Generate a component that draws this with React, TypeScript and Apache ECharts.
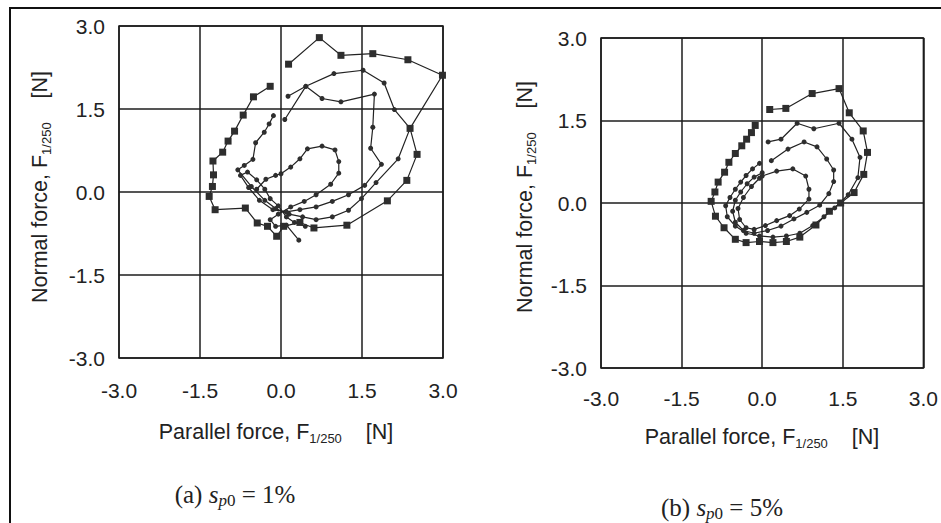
import React, { useEffect, useRef } from "react";
import * as echarts from "echarts";

// Tick values shared by both panels
const tickValues = [-3.0, -1.5, 0.0, 1.5, 3.0];

// Panel (a): s_p0 = 1%  [parallel force, normal force]
const leftSquares = [
  [0.14, 2.31], [0.71, 2.79], [1.11, 2.47], [1.70, 2.50], [2.35, 2.39], [2.99, 2.11],
  [2.39, 1.15], [2.52, 0.68], [2.33, 0.21], [1.97, -0.16], [1.22, -0.60], [0.61, -0.65],
  [0.35, -0.55], [0.05, -0.62], [-0.08, -0.80], [-0.25, -0.62], [-0.44, -0.56], [-0.66, -0.29],
  [-1.22, -0.32], [-1.33, -0.08], [-1.27, 0.10], [-1.25, 0.31], [-1.26, 0.56], [-1.08, 0.72],
  [-0.98, 0.92], [-0.86, 1.10], [-0.70, 1.39], [-0.51, 1.72], [-0.20, 1.91],
];
const leftDotsOuter = [
  [0.13, 1.73], [0.46, 1.91], [0.98, 2.14], [1.52, 2.20], [1.91, 1.97], [2.10, 1.49],
  [2.39, 1.15], [2.17, 0.60], [1.76, 0.17], [1.49, -0.12], [1.25, -0.33], [0.95, -0.45],
  [0.65, -0.50], [0.40, -0.45], [0.15, -0.40], [-0.10, -0.30], [-0.30, -0.15], [-0.55, 0.10],
  [-0.80, 0.40], [-0.68, 0.48], [-0.52, 0.59], [-0.47, 0.89], [-0.31, 1.08], [-0.22, 1.23],
  [-0.14, 1.38],
];
const leftDotsMid = [
  [0.07, 1.31], [0.46, 1.91], [0.76, 1.69], [1.11, 1.63], [1.73, 1.77], [1.70, 1.17],
  [1.66, 0.79], [1.86, 0.50], [1.55, 0.12], [1.25, -0.05], [0.95, -0.17], [0.65, -0.27],
  [0.35, -0.32], [0.10, -0.36], [-0.15, -0.32], [-0.40, -0.15], [-0.60, 0.08], [-0.75, 0.30],
  [-0.62, 0.36], [-0.45, 0.22], [-0.30, 0.05], [-0.20, -0.12], [-0.05, -0.25], [0.10, -0.45],
  [0.25, -0.55], [0.45, -0.62],
];
const leftDotsInner = [
  [-0.45, 0.05], [-0.28, 0.23], [-0.10, 0.30], [0.00, 0.33], [0.18, 0.45], [0.35, 0.60],
  [0.49, 0.78], [0.76, 0.83], [1.00, 0.76], [1.07, 0.55], [1.07, 0.34], [0.92, 0.14],
  [0.65, -0.05], [0.43, -0.17], [0.18, -0.27], [-0.05, -0.40], [-0.20, -0.50], [-0.10, -0.62],
  [0.10, -0.60], [0.33, -0.87],
];

// Panel (b): s_p0 = 5%
const rightSquares = [
  [0.14, 1.70], [0.44, 1.72], [0.93, 1.99], [1.43, 2.08], [1.62, 1.64], [1.88, 1.31],
  [1.96, 0.92], [1.89, 0.52], [1.71, 0.19], [1.46, 0.00], [1.25, -0.15], [1.00, -0.40],
  [0.70, -0.62], [0.45, -0.70], [0.20, -0.72], [-0.05, -0.70], [-0.30, -0.72], [-0.50, -0.66],
  [-0.71, -0.45], [-0.87, -0.24], [-0.95, 0.03], [-0.88, 0.20], [-0.82, 0.38], [-0.70, 0.56],
  [-0.62, 0.74], [-0.50, 0.90], [-0.38, 1.04], [-0.29, 1.16], [-0.20, 1.28], [-0.13, 1.41],
];
const rightDotsOuter = [
  [0.11, 1.11], [0.35, 1.16], [0.65, 1.45], [0.96, 1.35], [1.43, 1.45], [1.67, 1.16],
  [1.82, 0.83], [1.78, 0.46], [1.60, 0.15], [1.35, -0.09], [1.15, -0.25], [0.94, -0.41],
  [0.70, -0.55], [0.45, -0.60], [0.20, -0.62], [-0.05, -0.60], [-0.30, -0.55], [-0.50, -0.42],
  [-0.65, -0.25], [-0.68, -0.05], [-0.60, 0.10], [-0.50, 0.25], [-0.40, 0.38], [-0.30, 0.50],
  [-0.18, 0.62], [-0.05, 0.72],
];
const rightDotsMid = [
  [0.17, 0.77], [0.48, 0.98], [0.78, 1.11], [1.02, 1.02], [1.20, 0.80], [1.33, 0.60],
  [1.33, 0.39], [1.24, 0.17], [1.07, -0.04], [0.83, -0.17], [0.59, -0.29], [0.35, -0.42],
  [0.10, -0.50], [-0.15, -0.55], [-0.35, -0.50], [-0.50, -0.35], [-0.55, -0.15], [-0.50, 0.05],
  [-0.40, 0.20], [-0.28, 0.35], [-0.15, 0.47], [0.00, 0.55],
];
const rightDotsInner = [
  [0.00, 0.49], [0.27, 0.58], [0.57, 0.62], [0.81, 0.49], [0.87, 0.25], [0.87, 0.07],
  [0.69, -0.11], [0.51, -0.23], [0.27, -0.32], [0.06, -0.41], [-0.15, -0.48], [-0.30, -0.45],
  [-0.42, -0.30], [-0.45, -0.10], [-0.35, 0.10], [-0.20, 0.30], [-0.05, 0.45],
];

const INK = "#1c1c1c";
const SANS = "'Liberation Sans', Arial, Helvetica, sans-serif";
const SERIF = "'Liberation Serif', 'Times New Roman', serif";

function makeAxes(idx: number, margin: number) {
  return {
    gridIndex: idx,
    type: "value",
    min: tickValues[0],
    max: tickValues[tickValues.length - 1],
    interval: 1.5,
    axisLine: { show: false },
    axisTick: { show: false },
    splitLine: { show: true, lineStyle: { color: INK, width: 1.5 } },
    axisLabel: {
      formatter: (v: number) => v.toFixed(1),
      fontSize: 21,
      color: "#222",
      fontFamily: SANS,
      margin,
    },
  };
}

function lineSeries(data: number[][], idx: number, square: boolean) {
  return {
    type: "line",
    xAxisIndex: idx,
    yAxisIndex: idx,
    data,
    symbol: square ? "rect" : "circle",
    symbolSize: square ? 7 : 5,
    showSymbol: true,
    lineStyle: { color: "#222", width: 1.2 },
    itemStyle: { color: "#2e2e2e" },
    clip: false,
  };
}

const titleRich = {
  m: { fontSize: 21.5, fontFamily: SANS, fill: "#222", lineHeight: 26 },
  s: { fontSize: 13, fontFamily: SANS, fill: "#222", verticalAlign: "bottom", lineHeight: 9 },
};

const capRich = {
  n: { fontSize: 25, fontFamily: SERIF, fill: "#222", lineHeight: 30 },
  i: { fontSize: 25, fontFamily: SERIF, fontStyle: "italic", fill: "#222", lineHeight: 30 },
  si: { fontSize: 17, fontFamily: SERIF, fontStyle: "italic", fill: "#222", verticalAlign: "bottom", lineHeight: 11 },
  sn: { fontSize: 17, fontFamily: SERIF, fill: "#222", verticalAlign: "bottom", lineHeight: 11 },
};

function textEl(x: number, y: number, text: string, rich: any, rotation = 0) {
  return {
    type: "text",
    x,
    y,
    rotation,
    style: {
      text,
      rich,
      align: "center",
      verticalAlign: "middle",
      textAlign: "center",
      textVerticalAlign: "middle",
    },
  };
}

export default function App() {
  const ref = useRef<HTMLDivElement>(null);
  useEffect(() => {
    document.body.style.margin = "0";
    if (!ref.current) return;
    const chart = echarts.init(ref.current, undefined, { renderer: "svg" });
    const xTitle = "{m|Parallel force, F}{s|1/250}{m|    [N]}";
    const yTitle = "{m|Normal force, F}{s|1/250}{m|    [N]}";
    chart.setOption({
      animation: false,
      backgroundColor: "#ffffff",
      grid: [
        { left: 119, top: 26, width: 324, height: 332, show: true, borderColor: INK, borderWidth: 1.5, backgroundColor: "transparent" },
        { left: 601, top: 38, width: 330, height: 330, show: true, borderColor: INK, borderWidth: 1.5, backgroundColor: "transparent" },
      ],
      xAxis: [makeAxes(0, 22), makeAxes(1, 20)],
      yAxis: [makeAxes(0, 14), makeAxes(1, 14)],
      series: [
        lineSeries(leftSquares, 0, true),
        lineSeries(leftDotsOuter, 0, false),
        lineSeries(leftDotsMid, 0, false),
        lineSeries(leftDotsInner, 0, false),
        lineSeries(rightSquares, 1, true),
        lineSeries(rightDotsOuter, 1, false),
        lineSeries(rightDotsMid, 1, false),
        lineSeries(rightDotsInner, 1, false),
      ],
      graphic: [
        { type: "rect", shape: { x: 9, y: 7, width: 932, height: 2 }, style: { fill: "#111" } },
        { type: "rect", shape: { x: 9, y: 7, width: 2, height: 516 }, style: { fill: "#111" } },
        textEl(276, 432, xTitle, titleRich),
        textEl(762, 437, xTitle, titleRich),
        textEl(40, 187, yTitle, titleRich, Math.PI / 2),
        textEl(525, 197, yTitle, titleRich, Math.PI / 2),
        textEl(235, 494, "{n|(a) }{i|s}{si|p}{sn|0}{n| = 1%}", capRich),
        textEl(722, 507, "{n|(b) }{i|s}{si|p}{sn|0}{n| = 5%}", capRich),
      ],
    });
    return () => chart.dispose();
  }, []);
  return <div ref={ref} style={{ width: 941, height: 523 }} />;
}
